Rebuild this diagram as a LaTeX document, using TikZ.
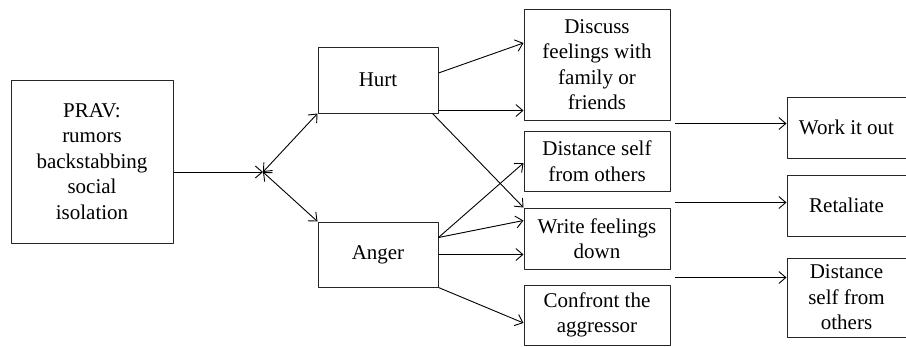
\documentclass[tikz,border=0pt]{standalone}
\usepackage{fontspec}
\setmainfont{Liberation Serif}
\usetikzlibrary{arrows.meta,calc}
\begin{document}
\begin{tikzpicture}[x=1pt,y=-1pt,font=\fontsize{21}{25.5}\selectfont,line join=round,
	>={Straight Barb[length=7pt,width=12pt]},
	box/.style={draw=black!85,line width=1pt,align=center,inner sep=0pt},
	link/.style={->,line width=0.9pt}]
	\useasboundingbox (0,0) rectangle (906,346);
	% boxes
	\node[box,minimum width=162pt,minimum height=163pt] (prav) at (92,161.5) {PRAV:\\rumors\\backstabbing\\social\\isolation};
	\node[box,minimum width=120pt,minimum height=66pt] (hurt) at (378,80) {Hurt};
	\node[box,minimum width=120pt,minimum height=65pt] (anger) at (378,254.5) {Anger};
	\node[box,minimum width=146pt,minimum height=111pt] (discuss) at (597,64.5) {Discuss\\feelings with\\family or\\friends};
	\node[box,minimum width=146pt,minimum height=60pt] (distA) at (597,161) {Distance self\\from others};
	\node[box,minimum width=146pt,minimum height=61pt] (write) at (597,238.5) {Write feelings\\down};
	\node[box,minimum width=146pt,minimum height=60pt] (confront) at (597,315) {Confront the\\aggressor};
	\node[box,minimum width=119pt,minimum height=61pt] (work) at (846.5,127.5) {Work it out};
	\node[box,minimum width=119pt,minimum height=61pt] (retal) at (846.5,205.5) {Retaliate};
	\node[box,minimum width=119pt,minimum height=79pt] (distB) at (846.5,297.5) {Distance\\self from\\others};
	% split point
	\coordinate (split) at (263,172);
	\draw[link] (prav.east |- split) -- (split);
	\draw[link,<->] (split) -- (hurt.south west);
	\draw[link,<->] (split) -- (anger.north west);
	% from Hurt
	\coordinate (h2) at ($(hurt.south east)+(0,-3)$);
	\draw[link] ($(hurt.east)+(0,-7)$) -- ($(discuss.west)+(0,-21.5)$);
	\draw[link] (h2) -- (h2 -| discuss.west);
	\draw[link] ($(hurt.south east)+(-6,0)$) -- (write.north west);
	% from Anger
	\coordinate (a1) at ($(anger.east)+(0,-17)$);
	\draw[link] (a1) -- ($(distA.west)+(0,2)$);
	\draw[link] (a1) -- ($(write.west)+(0,-18)$);
	\draw[link] (anger.east) -- (anger.east -| write.west);
	\draw[link] (anger.south east) -- ($(confront.west)+(0,8)$);
	% outcomes
	\coordinate (r1) at ($(discuss.south east)+(4,3)$);
	\coordinate (r2) at ($(distA.south east)+(4,11)$);
	\coordinate (r3) at ($(write.south east)+(4,8)$);
	\draw[link] (r1) -- (r1 -| work.west);
	\draw[link] (r2) -- (r2 -| retal.west);
	\draw[link] (r3) -- (r3 -| distB.west);
\end{tikzpicture}
\end{document}
